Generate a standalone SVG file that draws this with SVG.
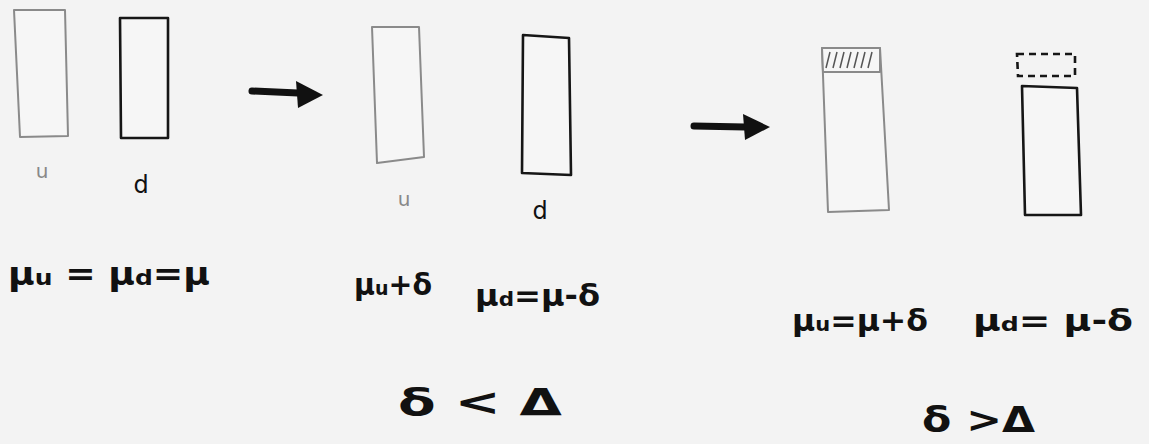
<svg xmlns="http://www.w3.org/2000/svg" width="1149" height="444" viewBox="0 0 1149 444">
<style>
.bg{fill:#f3f3f3}
.up{fill:#f6f6f6;stroke:#8a8a8a;stroke-width:2;stroke-linejoin:round}
.dn{fill:#f6f6f6;stroke:#161616;stroke-width:2.6;stroke-linejoin:round}
.dash{fill:none;stroke:#161616;stroke-width:2.6;stroke-dasharray:7 5}
.hatch{stroke:#555;stroke-width:1.5;fill:none}
.conn{stroke:#111;stroke-width:7;stroke-linecap:round;fill:none}
.head{fill:#111}
.lab{font-family:"DejaVu Sans",sans-serif;font-weight:bold;fill:#111}
.lu{font-family:"DejaVu Sans",sans-serif;fill:#888}
.ld{font-family:"DejaVu Sans",sans-serif;fill:#111}
</style>
<rect class="bg" width="1149" height="444"/>
<g id="connectors">
<path class="conn" d="M252 91 L298 93"/>
<path class="head" d="M296 81 L323 95 L298 108 Z"/>
<path class="conn" d="M694 126 L745 127"/>
<path class="head" d="M743 114 L770 127 L745 140 Z"/>
</g>
<g id="u1">
<path class="up" d="M14 10 L65 10 L68 136 L20 137 Z"/>
<text class="lu" x="42" y="178" font-size="20" text-anchor="middle">u</text>
</g>
<g id="d1">
<path class="dn" d="M120 18 L168 18 L168 138 L121 138 Z"/>
<text class="ld" x="141" y="193" font-size="24" text-anchor="middle">d</text>
</g>
<g id="u2">
<path class="up" d="M372 27 L419 27 L424 157 L377 163 Z"/>
<text class="lu" x="404" y="206" font-size="20" text-anchor="middle">u</text>
</g>
<g id="d2">
<path class="dn" d="M523 35 L569 38 L571 175 L522 173 Z"/>
<text class="ld" x="540" y="219" font-size="24" text-anchor="middle">d</text>
</g>
<g id="u3">
<path class="up" d="M822 48 L880 48 L889 210 L828 212 Z"/>
<path class="up" d="M822 48 L880 48 L880 72 L823 72 Z"/>
<path class="hatch" d="M826 68 L830 52 M833 68 L837 52 M840 68 L844 52 M847 68 L851 52 M854 68 L858 52 M861 68 L865 52 M868 68 L872 52"/>
</g>
<g id="d3">
<path class="dash" d="M1017 54 L1075 54 L1075 76 L1018 76 Z"/>
<path class="dn" d="M1022 86 L1077 88 L1081 215 L1025 215 Z"/>
</g>
<g id="eq1">
<text class="lab" x="8" y="285" font-size="32" textLength="202" lengthAdjust="spacingAndGlyphs">μ<tspan font-size="22">u</tspan> = μ<tspan font-size="22">d</tspan>=μ</text>
</g>
<g id="eq2">
<text class="lab" x="354" y="295" font-size="30" textLength="78" lengthAdjust="spacingAndGlyphs">μ<tspan font-size="20">u</tspan>+δ</text>
<text class="lab" x="475" y="306" font-size="30" textLength="125" lengthAdjust="spacingAndGlyphs">μ<tspan font-size="20">d</tspan>=μ-δ</text>
<text class="lab" x="398" y="415" font-size="38" textLength="164" lengthAdjust="spacingAndGlyphs">δ &lt; Δ</text>
</g>
<g id="eq3">
<text class="lab" x="792" y="331" font-size="30" textLength="136" lengthAdjust="spacingAndGlyphs">μ<tspan font-size="20">u</tspan>=μ+δ</text>
<text class="lab" x="973" y="331" font-size="30" textLength="160" lengthAdjust="spacingAndGlyphs">μ<tspan font-size="20">d</tspan>= μ-δ</text>
<text class="lab" x="922" y="432" font-size="36" textLength="113" lengthAdjust="spacingAndGlyphs">δ &gt;Δ</text>
</g>
</svg>
